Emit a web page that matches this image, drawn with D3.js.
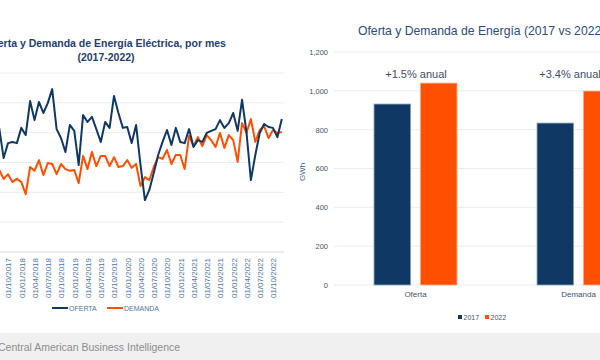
<!DOCTYPE html>
<html><head><meta charset="utf-8">
<script src="https://cdn.jsdelivr.net/npm/d3@7"></script>
<style>
html,body{margin:0;padding:0;background:#fff;}
svg{display:block;font-family:"Liberation Sans","DejaVu Sans",sans-serif;}
</style></head>
<body>
<svg id="c" width="600" height="360"></svg>
<script>
// ---------- DATA ----------
const firstMonth = new Date(2017, 7, 1);   // Aug 2017 (first visible month)
const lastMonth = new Date(2022, 11, 1);   // Dec 2022
const ofertaGWh = [1016, 915, 965, 969, 965, 1016, 992, 1106, 1042, 1103, 1066, 1099, 1146, 1012, 982, 935, 1026, 1006, 892, 1059, 1036, 1053, 1012, 969, 1036, 1016, 1123, 1066, 1016, 1019, 965, 1026, 892, 774, 808, 865, 925, 969, 1009, 959, 1016, 969, 965, 1012, 952, 975, 969, 999, 1006, 1012, 1042, 1016, 1032, 1066, 1006, 1110, 1002, 841, 925, 999, 1029, 1019, 1016, 985, 1046];
const demandaGWh = [875, 845, 861, 835, 845, 835, 794, 885, 872, 908, 858, 898, 895, 861, 895, 878, 872, 875, 831, 922, 878, 935, 888, 922, 922, 888, 918, 885, 888, 908, 882, 895, 821, 851, 841, 885, 918, 912, 942, 895, 925, 925, 878, 989, 955, 985, 955, 992, 975, 952, 999, 949, 992, 975, 902, 1032, 999, 1046, 969, 1009, 1022, 982, 1009, 999, 1002];
const lineYTicks = [600, 700, 800, 900, 1000, 1100, 1200];
const lineSeriesNames = ["OFERTA", "DEMANDA"];

const barCategories = ["Oferta", "Demanda"];
const barYears = ["2017", "2022"];
const bar2017 = [932, 834];
const bar2022 = [1040, 999];
const barGrowth = ["+1.5% anual", "+3.4% anual"];
const barYTicks = [0, 200, 400, 600, 800, 1000, 1200];

const NAVY = "#0f3964", ORANGE = "#ff4f00";
const svg = d3.select("#c");

// ---------- LEFT: line chart ----------
const months = d3.timeMonth.range(firstMonth, d3.timeMonth.offset(lastMonth, 1));
const fmt = d3.timeFormat("01/%m/%Y");
const keys = months.map(fmt);
const x = d3.scalePoint().domain(keys).range([-0.8, 281.8]);
const y = d3.scaleLinear().domain([600, 1200]).range([252, 73]);

const L = svg.append("g");
L.selectAll("line.grid").data(lineYTicks).join("line")
  .attr("x1", 0).attr("x2", 284)
  .attr("y1", d => y(d)).attr("y2", d => y(d))
  .attr("stroke", d => d === 600 ? "#d9d9d9" : "#ececec").attr("stroke-width", 1);

const tickKeys = months.filter(m => m.getMonth() % 3 === 0).map(fmt);
const xAxis = L.append("g").attr("transform", "translate(0,254)")
  .call(d3.axisBottom(x).tickValues(tickKeys).tickSize(0).tickPadding(0));
xAxis.select(".domain").remove();
xAxis.selectAll("text")
  .attr("transform", "rotate(-90)")
  .attr("x", -4).attr("y", 0).attr("dy", "0.35em")
  .style("text-anchor", "end")
  .attr("fill", "#4f77a3").attr("font-size", 8)
  .attr("font-family", "Liberation Sans, sans-serif");

const lineGen = d3.line().x((d, i) => x(keys[i])).y(d => y(d));
L.append("path").datum(demandaGWh).attr("d", lineGen)
  .attr("fill", "none").attr("stroke", ORANGE).attr("stroke-width", 2).attr("stroke-linejoin", "round");
L.append("path").datum(ofertaGWh).attr("d", lineGen)
  .attr("fill", "none").attr("stroke", NAVY).attr("stroke-width", 2).attr("stroke-linejoin", "round");

// title
const T = L.append("text").attr("text-anchor", "middle").attr("fill", "#1f3f6e")
  .attr("font-weight", "bold").attr("font-size", 10.5);
T.append("tspan").attr("x", 106).attr("y", 47).text("Oferta y Demanda de Energía Eléctrica, por mes");
T.append("tspan").attr("x", 106).attr("y", 61).text("(2017-2022)");

// legend
const legColors = [NAVY, ORANGE];
const legX = [52, 107];
lineSeriesNames.forEach((n, i) => {
  L.append("line").attr("x1", legX[i]).attr("x2", legX[i] + 16).attr("y1", 308).attr("y2", 308)
    .attr("stroke", legColors[i]).attr("stroke-width", 2);
  L.append("text").attr("x", legX[i] + 17).attr("y", 310.5).attr("font-size", 7)
    .attr("fill", "#4f77a3").text(n);
});

// ---------- RIGHT: bar chart ----------
const yb = d3.scaleLinear().domain([0, 1200]).range([285, 52]);
const x0 = d3.scaleBand().domain(barCategories).range([334, 660]).paddingInner(0.491).paddingOuter(0.2455);
const x1 = d3.scaleBand().domain(barYears).range([0, x0.bandwidth()]).paddingInner(0.21);

const R = svg.append("g");
R.selectAll("line.bgrid").data(barYTicks).join("line")
  .attr("x1", 334).attr("x2", 600)
  .attr("y1", d => yb(d)).attr("y2", d => yb(d))
  .attr("stroke", "#ececec").attr("stroke-width", 1);

const yAxis = R.append("g").attr("transform", "translate(328,0)")
  .call(d3.axisLeft(yb).tickValues(barYTicks).tickSize(0).tickPadding(0).tickFormat(d3.format(",")));
yAxis.select(".domain").remove();
yAxis.selectAll("text").attr("fill", "#44546a").attr("font-size", 7.5)
  .attr("font-family", "Liberation Sans, sans-serif");

R.append("text").attr("transform", "translate(305,172) rotate(-90)")
  .attr("text-anchor", "middle").attr("font-size", 8).attr("fill", "#2e5a88").text("GWh");

const barData = barCategories.map((c, i) => ({ cat: c, vals: [bar2017[i], bar2022[i]] }));
const grp = R.selectAll("g.cat").data(barData).join("g")
  .attr("transform", d => `translate(${x0(d.cat)},0)`);
grp.selectAll("rect").data(d => d.vals.map((v, j) => ({ yr: barYears[j], v }))).join("rect")
  .attr("x", d => x1(d.yr)).attr("width", x1.bandwidth())
  .attr("y", d => yb(d.v)).attr("height", d => yb(0) - yb(d.v))
  .attr("fill", d => d.yr === "2017" ? NAVY : ORANGE)
  .attr("stroke", d => d.yr === "2017" ? "#8aa3bd" : "#ffb08a").attr("stroke-width", 0.8);

const growthX = [416, 570];
barGrowth.forEach((g, i) => {
  R.append("text").attr("x", growthX[i]).attr("y", 78).attr("text-anchor", "middle")
    .attr("font-size", 11).attr("fill", "#3d4f66").text(g);
});

R.selectAll("text.cat").data(barCategories).join("text")
  .attr("x", d => x0(d) + x0.bandwidth() / 2).attr("y", 297)
  .attr("text-anchor", "middle").attr("font-size", 8).attr("fill", "#44546a").text(d => d);

R.append("text").attr("x", 358).attr("y", 35).attr("font-size", 12.2).attr("fill", "#2b4c7e")
  .text("Oferta y Demanda de Energía (2017 vs 2022)");

// bar legend
const blx = [458, 485];
barYears.forEach((yr, i) => {
  R.append("rect").attr("x", blx[i]).attr("y", 315).attr("width", 4).attr("height", 4)
    .attr("fill", i === 0 ? NAVY : ORANGE);
  R.append("text").attr("x", blx[i] + 5.5).attr("y", 319.5).attr("font-size", 7)
    .attr("fill", "#44546a").text(yr);
});

// ---------- footer ----------
svg.append("rect").attr("x", 0).attr("y", 333).attr("width", 600).attr("height", 27).attr("fill", "#f0f0f0");
svg.append("text").attr("x", -2).attr("y", 351).attr("font-size", 10.5).attr("fill", "#8c8c8c")
  .text("Central American Business Intelligence");
</script>
</body></html>
